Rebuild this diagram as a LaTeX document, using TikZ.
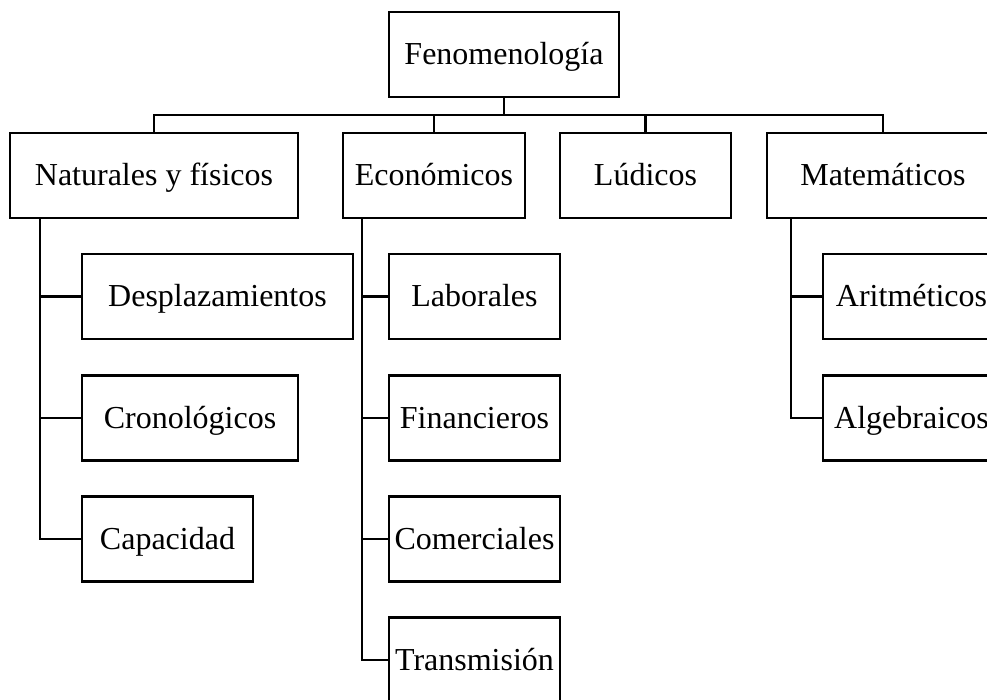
\documentclass[tikz,border=0pt]{standalone}
\usepackage{fontspec}
\setmainfont{Liberation Serif}
\begin{document}
\begin{tikzpicture}[x=1pt,y=-1pt,
  box/.style={draw, line width=2.4pt, inner sep=0pt, minimum height=85pt, text height=27pt, text depth=7pt, font=\fontsize{32}{38}\selectfont},
  conn/.style={line width=2.4pt}]
\useasboundingbox (0,0) rectangle (987,700);
\clip (0,0) rectangle (987,700);
% level 0
\node[box, minimum width=230pt] (fen) at (504,54.5) {Fenomenología};
% level 1
\node[box, minimum width=288pt] (nat) at (154,175.5) {Naturales y físicos};
\node[box, minimum width=182pt] (eco) at (434,175.5) {Económicos};
\node[box, minimum width=171pt] (lud) at (645.5,175.5) {Lúdicos};
\node[box, minimum width=232pt] (mat) at (883,175.5) {Matemáticos};
% level 2 - naturales
\node[box, minimum width=271pt] (des) at (217.5,296.5) {Desplazamientos};
\node[box, minimum width=216pt] (cro) at (190,418) {Cronológicos};
\node[box, minimum width=171pt] (cap) at (167.5,539) {Capacidad};
% level 2 - economicos
\node[box, minimum width=171pt] (lab) at (474.5,296.5) {Laborales};
\node[box, minimum width=171pt] (fin) at (474.5,418) {Financieros};
\node[box, minimum width=171pt] (com) at (474.5,539) {Comerciales};
\node[box, minimum width=171pt] (tra) at (474.5,660) {Transmisión};
% level 2 - matematicos
\node[box, minimum width=177pt] (ari) at (911.5,296.5) {Aritméticos};
\node[box, minimum width=177pt] (alg) at (911.5,418) {Algebraicos};
% connectors
\coordinate (bus) at (0,115);
\coordinate (sn) at (40,218);
\coordinate (se) at (362,218);
\coordinate (sm) at (791,218);
\draw[conn] (fen.south) -- (fen.south |- bus);
\draw[conn] (nat.north) -- (nat.north |- bus) -- (mat.north |- bus) -- (mat.north);
\draw[conn] (eco.north |- bus) -- (eco.north);
\draw[conn] (lud.north |- bus) -- (lud.north);
\draw[conn] (sn) |- (cap.west);
\draw[conn] (sn |- des.west) -- (des.west);
\draw[conn] (sn |- cro.west) -- (cro.west);
\draw[conn] (se) |- (tra.west);
\draw[conn] (se |- lab.west) -- (lab.west);
\draw[conn] (se |- fin.west) -- (fin.west);
\draw[conn] (se |- com.west) -- (com.west);
\draw[conn] (sm) |- (alg.west);
\draw[conn] (sm |- ari.west) -- (ari.west);
\end{tikzpicture}
\end{document}
